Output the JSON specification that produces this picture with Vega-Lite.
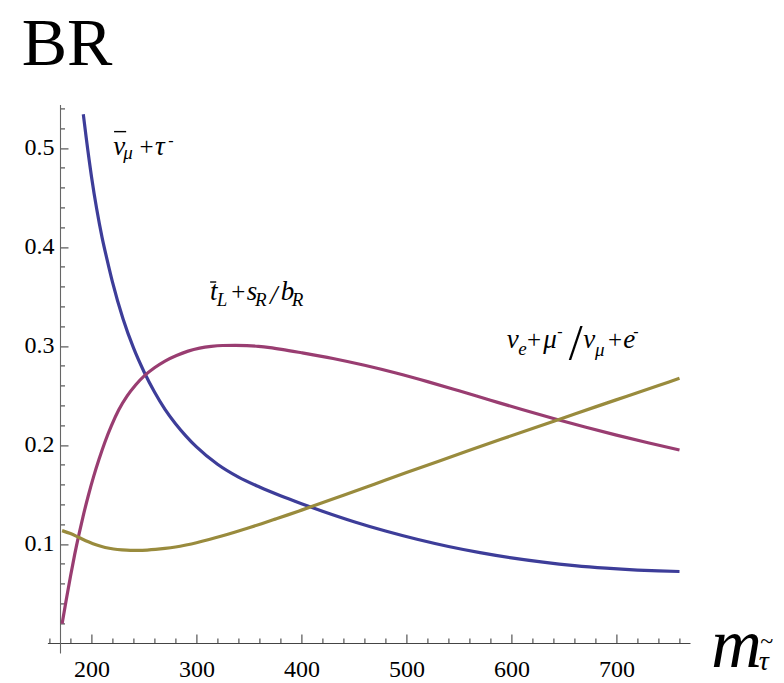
{
  "$schema": "https://vega.github.io/schema/vega-lite/v6.json",
  "autosize": {"type": "none"},
  "padding": {"left": 47.4, "top": 104.4, "right": 94, "bottom": 30.1},
  "width": 642.6,
  "height": 548.5,
  "background": "white",
  "config": {"view": {"stroke": null}},
  "datasets": {
    "curves": [
      {"m": 192.2, "br": 0.534, "channel": "nubar_mu + tau"},
      {"m": 195, "br": 0.51, "channel": "nubar_mu + tau"},
      {"m": 200, "br": 0.471, "channel": "nubar_mu + tau"},
      {"m": 205, "br": 0.438, "channel": "nubar_mu + tau"},
      {"m": 210, "br": 0.41, "channel": "nubar_mu + tau"},
      {"m": 215, "br": 0.3865, "channel": "nubar_mu + tau"},
      {"m": 220, "br": 0.3645, "channel": "nubar_mu + tau"},
      {"m": 230, "br": 0.3275, "channel": "nubar_mu + tau"},
      {"m": 240, "br": 0.298, "channel": "nubar_mu + tau"},
      {"m": 250, "br": 0.274, "channel": "nubar_mu + tau"},
      {"m": 260, "br": 0.2535, "channel": "nubar_mu + tau"},
      {"m": 270, "br": 0.236, "channel": "nubar_mu + tau"},
      {"m": 280, "br": 0.2215, "channel": "nubar_mu + tau"},
      {"m": 290, "br": 0.209, "channel": "nubar_mu + tau"},
      {"m": 300, "br": 0.198, "channel": "nubar_mu + tau"},
      {"m": 320, "br": 0.1805, "channel": "nubar_mu + tau"},
      {"m": 340, "br": 0.1675, "channel": "nubar_mu + tau"},
      {"m": 360, "br": 0.1575, "channel": "nubar_mu + tau"},
      {"m": 380, "br": 0.1487, "channel": "nubar_mu + tau"},
      {"m": 400, "br": 0.1407, "channel": "nubar_mu + tau"},
      {"m": 420, "br": 0.1331, "channel": "nubar_mu + tau"},
      {"m": 450, "br": 0.1225, "channel": "nubar_mu + tau"},
      {"m": 480, "br": 0.1131, "channel": "nubar_mu + tau"},
      {"m": 510, "br": 0.1048, "channel": "nubar_mu + tau"},
      {"m": 540, "br": 0.0975, "channel": "nubar_mu + tau"},
      {"m": 570, "br": 0.0913, "channel": "nubar_mu + tau"},
      {"m": 600, "br": 0.086, "channel": "nubar_mu + tau"},
      {"m": 630, "br": 0.0817, "channel": "nubar_mu + tau"},
      {"m": 660, "br": 0.0782, "channel": "nubar_mu + tau"},
      {"m": 690, "br": 0.0756, "channel": "nubar_mu + tau"},
      {"m": 720, "br": 0.0737, "channel": "nubar_mu + tau"},
      {"m": 740, "br": 0.0728, "channel": "nubar_mu + tau"},
      {"m": 760, "br": 0.0722, "channel": "nubar_mu + tau"},

      {"m": 172, "br": 0.0195, "channel": "tbar_L + s_R/b_R"},
      {"m": 176, "br": 0.044, "channel": "tbar_L + s_R/b_R"},
      {"m": 180, "br": 0.0675, "channel": "tbar_L + s_R/b_R"},
      {"m": 184, "br": 0.0895, "channel": "tbar_L + s_R/b_R"},
      {"m": 188, "br": 0.1095, "channel": "tbar_L + s_R/b_R"},
      {"m": 192, "br": 0.128, "channel": "tbar_L + s_R/b_R"},
      {"m": 197, "br": 0.149, "channel": "tbar_L + s_R/b_R"},
      {"m": 202, "br": 0.168, "channel": "tbar_L + s_R/b_R"},
      {"m": 207, "br": 0.185, "channel": "tbar_L + s_R/b_R"},
      {"m": 213, "br": 0.2035, "channel": "tbar_L + s_R/b_R"},
      {"m": 219, "br": 0.2195, "channel": "tbar_L + s_R/b_R"},
      {"m": 226, "br": 0.2355, "channel": "tbar_L + s_R/b_R"},
      {"m": 234, "br": 0.2495, "channel": "tbar_L + s_R/b_R"},
      {"m": 242, "br": 0.2605, "channel": "tbar_L + s_R/b_R"},
      {"m": 251, "br": 0.2705, "channel": "tbar_L + s_R/b_R"},
      {"m": 260, "br": 0.278, "channel": "tbar_L + s_R/b_R"},
      {"m": 270, "br": 0.2848, "channel": "tbar_L + s_R/b_R"},
      {"m": 281, "br": 0.2904, "channel": "tbar_L + s_R/b_R"},
      {"m": 292, "br": 0.2948, "channel": "tbar_L + s_R/b_R"},
      {"m": 303, "br": 0.2978, "channel": "tbar_L + s_R/b_R"},
      {"m": 314, "br": 0.2996, "channel": "tbar_L + s_R/b_R"},
      {"m": 325, "br": 0.3005, "channel": "tbar_L + s_R/b_R"},
      {"m": 337, "br": 0.3007, "channel": "tbar_L + s_R/b_R"},
      {"m": 348, "br": 0.3004, "channel": "tbar_L + s_R/b_R"},
      {"m": 359, "br": 0.2996, "channel": "tbar_L + s_R/b_R"},
      {"m": 370, "br": 0.2983, "channel": "tbar_L + s_R/b_R"},
      {"m": 381, "br": 0.2966, "channel": "tbar_L + s_R/b_R"},
      {"m": 400, "br": 0.2932, "channel": "tbar_L + s_R/b_R"},
      {"m": 430, "br": 0.2874, "channel": "tbar_L + s_R/b_R"},
      {"m": 460, "br": 0.2805, "channel": "tbar_L + s_R/b_R"},
      {"m": 490, "br": 0.2727, "channel": "tbar_L + s_R/b_R"},
      {"m": 520, "br": 0.264, "channel": "tbar_L + s_R/b_R"},
      {"m": 550, "br": 0.2547, "channel": "tbar_L + s_R/b_R"},
      {"m": 580, "br": 0.2452, "channel": "tbar_L + s_R/b_R"},
      {"m": 610, "br": 0.2358, "channel": "tbar_L + s_R/b_R"},
      {"m": 640, "br": 0.2268, "channel": "tbar_L + s_R/b_R"},
      {"m": 670, "br": 0.2182, "channel": "tbar_L + s_R/b_R"},
      {"m": 700, "br": 0.21, "channel": "tbar_L + s_R/b_R"},
      {"m": 730, "br": 0.2023, "channel": "tbar_L + s_R/b_R"},
      {"m": 760, "br": 0.195, "channel": "tbar_L + s_R/b_R"},

      {"m": 172, "br": 0.1135, "channel": "nu_e + mu / nu_mu + e"},
      {"m": 180, "br": 0.1105, "channel": "nu_e + mu / nu_mu + e"},
      {"m": 188, "br": 0.1066, "channel": "nu_e + mu / nu_mu + e"},
      {"m": 197, "br": 0.1022, "channel": "nu_e + mu / nu_mu + e"},
      {"m": 205, "br": 0.0989, "channel": "nu_e + mu / nu_mu + e"},
      {"m": 213, "br": 0.0965, "channel": "nu_e + mu / nu_mu + e"},
      {"m": 221, "br": 0.0949, "channel": "nu_e + mu / nu_mu + e"},
      {"m": 229, "br": 0.094, "channel": "nu_e + mu / nu_mu + e"},
      {"m": 237, "br": 0.0936, "channel": "nu_e + mu / nu_mu + e"},
      {"m": 245, "br": 0.0936, "channel": "nu_e + mu / nu_mu + e"},
      {"m": 253, "br": 0.0939, "channel": "nu_e + mu / nu_mu + e"},
      {"m": 261, "br": 0.0945, "channel": "nu_e + mu / nu_mu + e"},
      {"m": 270, "br": 0.0955, "channel": "nu_e + mu / nu_mu + e"},
      {"m": 280, "br": 0.097, "channel": "nu_e + mu / nu_mu + e"},
      {"m": 290, "br": 0.099, "channel": "nu_e + mu / nu_mu + e"},
      {"m": 300, "br": 0.1013, "channel": "nu_e + mu / nu_mu + e"},
      {"m": 312, "br": 0.1045, "channel": "nu_e + mu / nu_mu + e"},
      {"m": 324, "br": 0.108, "channel": "nu_e + mu / nu_mu + e"},
      {"m": 337, "br": 0.1121, "channel": "nu_e + mu / nu_mu + e"},
      {"m": 350, "br": 0.1164, "channel": "nu_e + mu / nu_mu + e"},
      {"m": 362, "br": 0.1205, "channel": "nu_e + mu / nu_mu + e"},
      {"m": 375, "br": 0.1251, "channel": "nu_e + mu / nu_mu + e"},
      {"m": 387, "br": 0.1294, "channel": "nu_e + mu / nu_mu + e"},
      {"m": 400, "br": 0.1342, "channel": "nu_e + mu / nu_mu + e"},
      {"m": 411, "br": 0.1383, "channel": "nu_e + mu / nu_mu + e"},
      {"m": 440, "br": 0.1493, "channel": "nu_e + mu / nu_mu + e"},
      {"m": 470, "br": 0.1607, "channel": "nu_e + mu / nu_mu + e"},
      {"m": 500, "br": 0.1721, "channel": "nu_e + mu / nu_mu + e"},
      {"m": 530, "br": 0.1834, "channel": "nu_e + mu / nu_mu + e"},
      {"m": 560, "br": 0.1946, "channel": "nu_e + mu / nu_mu + e"},
      {"m": 590, "br": 0.2057, "channel": "nu_e + mu / nu_mu + e"},
      {"m": 620, "br": 0.2167, "channel": "nu_e + mu / nu_mu + e"},
      {"m": 650, "br": 0.2276, "channel": "nu_e + mu / nu_mu + e"},
      {"m": 680, "br": 0.2385, "channel": "nu_e + mu / nu_mu + e"},
      {"m": 710, "br": 0.2493, "channel": "nu_e + mu / nu_mu + e"},
      {"m": 740, "br": 0.2601, "channel": "nu_e + mu / nu_mu + e"},
      {"m": 760, "br": 0.2673, "channel": "nu_e + mu / nu_mu + e"}
    ],
    "labels": [
      {"m": 133.5, "br": 0.5838, "text": "BR", "part": "heading"},

      {"m": 220.8, "br": 0.4929, "text": "ν", "part": "main"},
      {"m": 230.3, "br": 0.4886, "text": "μ", "part": "sub"},
      {"m": 245.6, "br": 0.4929, "text": "+", "part": "op"},
      {"m": 260.5, "br": 0.4929, "text": "τ", "part": "main"},
      {"m": 273.1, "br": 0.5023, "text": "-", "part": "sup"},

      {"m": 312.9, "br": 0.3465, "text": "t", "part": "main"},
      {"m": 319.2, "br": 0.3404, "text": "L", "part": "sub"},
      {"m": 333, "br": 0.3465, "text": "+", "part": "op"},
      {"m": 347.8, "br": 0.3465, "text": "s", "part": "main"},
      {"m": 355.7, "br": 0.3404, "text": "R", "part": "sub"},
      {"m": 370, "br": 0.3424, "text": "/", "part": "main"},
      {"m": 380.2, "br": 0.3465, "text": "b", "part": "main"},
      {"m": 390.7, "br": 0.3404, "text": "R", "part": "sub"},

      {"m": 595.4, "br": 0.2977, "text": "ν", "part": "main"},
      {"m": 606.5, "br": 0.2909, "text": "e", "part": "sub"},
      {"m": 614.8, "br": 0.2977, "text": "+", "part": "op"},
      {"m": 630.3, "br": 0.2977, "text": "μ", "part": "main"},
      {"m": 643.6, "br": 0.3088, "text": "-", "part": "sup"},
      {"m": 654.6, "br": 0.2869, "text": "/", "part": "slash"},
      {"m": 668.4, "br": 0.2977, "text": "ν", "part": "main"},
      {"m": 679.5, "br": 0.2899, "text": "μ", "part": "sub"},
      {"m": 691.8, "br": 0.2977, "text": "+", "part": "op"},
      {"m": 706.5, "br": 0.2977, "text": "e", "part": "main"},
      {"m": 716, "br": 0.3088, "text": "-", "part": "sup"},

      {"m": 790.2, "br": -0.0242, "text": "m", "part": "axisvar"},
      {"m": 835.5, "br": -0.0273, "text": "τ", "part": "axissub"},
      {"m": 843, "br": -0.0061, "text": "~", "part": "tilde"}
    ],
    "bars": [
      {"m": 221.5, "m2": 233, "br": 0.5165},
      {"m": 313, "m2": 318.8, "br": 0.3646}
    ]
  },
  "encoding": {
    "x": {
      "field": "m",
      "type": "quantitative",
      "scale": {"domain": [158, 770], "nice": false, "zero": false},
      "axis": {
        "title": null,
        "grid": false,
        "offset": -9.9,
        "values": [160, 180, 200, 220, 240, 260, 280, 300, 320, 340, 360, 380, 400, 420, 440, 460, 480, 500, 520, 540, 560, 580, 600, 620, 640, 660, 680, 700, 720, 740, 760],
        "format": "d",
        "labelExpr": "datum.value % 100 === 0 ? datum.label : ''",
        "tickSize": {"condition": {"test": "datum.value % 100 === 0", "value": -9}, "value": -5},
        "tickWidth": 1.1,
        "domainWidth": 1.1,
        "tickColor": "#444",
        "domainColor": "#444",
        "labelFont": "Liberation Serif",
        "labelFontSize": 24,
        "labelColor": "black",
        "labelPadding": 23,
        "labelOverlap": false,
        "labelFlush": false,
        "labelBound": false
      }
    },
    "y": {
      "field": "br",
      "type": "quantitative",
      "scale": {"domain": [-0.01, 0.544], "nice": false, "zero": false},
      "axis": {
        "title": null,
        "grid": false,
        "offset": -12.6,
        "values": [0.02, 0.04, 0.06, 0.08, 0.1, 0.12, 0.14, 0.16, 0.18, 0.2, 0.22, 0.24, 0.26, 0.28, 0.3, 0.32, 0.34, 0.36, 0.38, 0.4, 0.42, 0.44, 0.46, 0.48, 0.5, 0.52, 0.54],
        "labelExpr": "round(datum.value * 100) % 10 === 0 ? format(datum.value, '.1f') : ''",
        "tickSize": {"condition": {"test": "round(datum.value * 100) % 10 === 0", "value": -8}, "value": -4.5},
        "tickWidth": 1.1,
        "domainWidth": 1.1,
        "tickColor": "#444",
        "domainColor": "#666",
        "labelFont": "Liberation Serif",
        "labelFontSize": 24,
        "labelColor": "black",
        "labelPadding": 14,
        "labelOverlap": false,
        "labelFlush": false,
        "labelBound": false
      }
    }
  },
  "layer": [
    {
      "data": {"name": "curves"},
      "mark": {"type": "line", "strokeWidth": 3.2, "interpolate": "monotone"},
      "encoding": {
        "color": {
          "field": "channel",
          "type": "nominal",
          "scale": {
            "domain": ["nubar_mu + tau", "tbar_L + s_R/b_R", "nu_e + mu / nu_mu + e"],
            "range": ["#3d3d99", "#993d71", "#998b3d"]
          },
          "legend": null
        }
      }
    },
    {
      "data": {"name": "bars"},
      "mark": {"type": "rule", "strokeWidth": 1.4, "color": "black"},
      "encoding": {"x2": {"field": "m2"}}
    },
    {
      "data": {"name": "labels"},
      "transform": [{"filter": "datum.part === 'heading'"}],
      "mark": {"type": "text", "align": "left", "baseline": "alphabetic", "font": "Liberation Serif", "fontSize": 68, "color": "black"},
      "encoding": {"text": {"field": "text"}}
    },
    {
      "data": {"name": "labels"},
      "transform": [{"filter": "datum.part === 'main'"}],
      "mark": {"type": "text", "align": "left", "baseline": "alphabetic", "font": "Liberation Serif", "fontStyle": "italic", "fontSize": 27, "color": "black"},
      "encoding": {"text": {"field": "text"}}
    },
    {
      "data": {"name": "labels"},
      "transform": [{"filter": "datum.part === 'sub'"}],
      "mark": {"type": "text", "align": "left", "baseline": "alphabetic", "font": "Liberation Serif", "fontStyle": "italic", "fontSize": 19, "color": "black"},
      "encoding": {"text": {"field": "text"}}
    },
    {
      "data": {"name": "labels"},
      "transform": [{"filter": "datum.part === 'op'"}],
      "mark": {"type": "text", "align": "left", "baseline": "alphabetic", "font": "Liberation Serif", "fontSize": 25, "color": "black"},
      "encoding": {"text": {"field": "text"}}
    },
    {
      "data": {"name": "labels"},
      "transform": [{"filter": "datum.part === 'sup'"}],
      "mark": {"type": "text", "align": "left", "baseline": "alphabetic", "font": "Liberation Serif", "fontSize": 16, "color": "black"},
      "encoding": {"text": {"field": "text"}}
    },
    {
      "data": {"name": "labels"},
      "transform": [{"filter": "datum.part === 'slash'"}],
      "mark": {"type": "text", "align": "left", "baseline": "alphabetic", "font": "Liberation Serif", "fontSize": 50, "color": "black"},
      "encoding": {"text": {"field": "text"}}
    },
    {
      "data": {"name": "labels"},
      "transform": [{"filter": "datum.part === 'axisvar'"}],
      "mark": {"type": "text", "align": "left", "baseline": "alphabetic", "font": "Liberation Serif", "fontStyle": "italic", "fontSize": 70, "color": "black"},
      "encoding": {"text": {"field": "text"}}
    },
    {
      "data": {"name": "labels"},
      "transform": [{"filter": "datum.part === 'axissub'"}],
      "mark": {"type": "text", "align": "left", "baseline": "alphabetic", "font": "Liberation Serif", "fontStyle": "italic", "fontSize": 28, "color": "black"},
      "encoding": {"text": {"field": "text"}}
    },
    {
      "data": {"name": "labels"},
      "transform": [{"filter": "datum.part === 'tilde'"}],
      "mark": {"type": "text", "align": "center", "baseline": "alphabetic", "font": "Liberation Serif", "fontSize": 24, "color": "black"},
      "encoding": {"text": {"field": "text"}}
    }
  ]
}
